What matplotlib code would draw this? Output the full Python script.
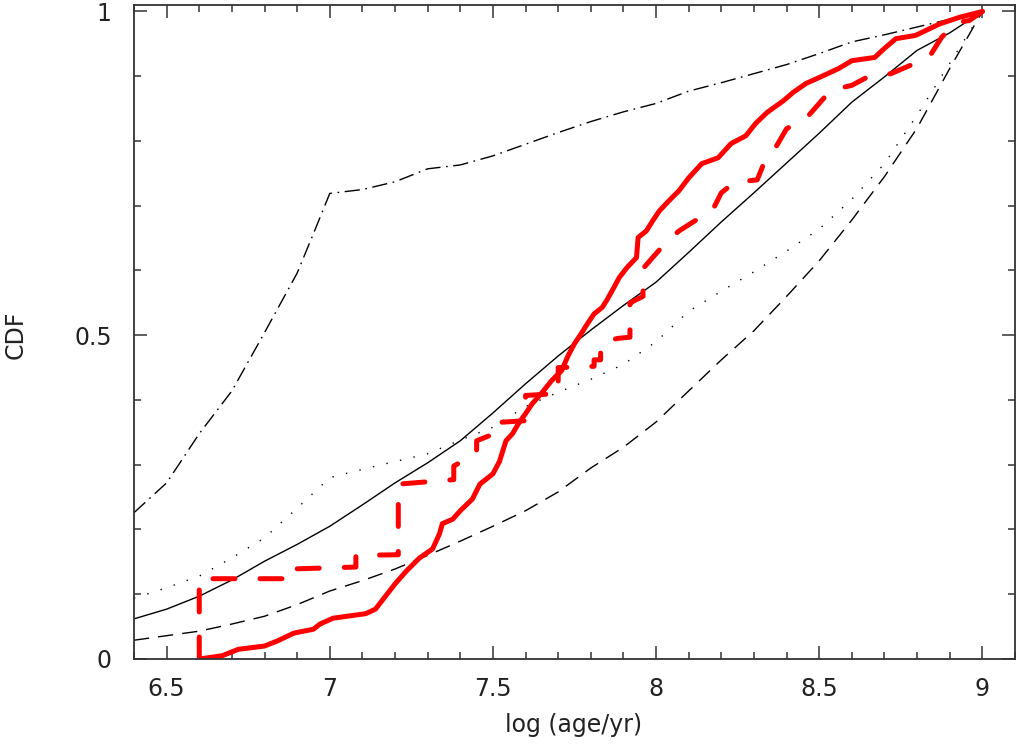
import matplotlib
matplotlib.use("Agg")
import matplotlib.pyplot as plt
from matplotlib.ticker import MultipleLocator

# model CDFs (black curves), sampled by eye
x_grid = [6.4, 6.5, 6.6, 6.7, 6.8, 6.9, 7.0, 7.1, 7.2, 7.3, 7.4, 7.5, 7.6, 7.7,
          7.8, 7.9, 8.0, 8.1, 8.2, 8.3, 8.4, 8.5, 8.6, 8.7, 8.8, 8.9, 9.0]
cdf_solid = [0.062, 0.077, 0.097, 0.122, 0.151, 0.177, 0.205, 0.238, 0.272, 0.303,
             0.337, 0.38, 0.425, 0.468, 0.508, 0.546, 0.582, 0.628, 0.675, 0.72,
             0.766, 0.812, 0.86, 0.899, 0.94, 0.967, 1.0]
cdf_dotted = [0.094, 0.11, 0.128, 0.156, 0.187, 0.233, 0.28, 0.293, 0.305, 0.317,
              0.338, 0.358, 0.39, 0.412, 0.432, 0.455, 0.49, 0.537, 0.568, 0.598,
              0.63, 0.664, 0.71, 0.765, 0.84, 0.92, 1.0]
cdf_dashed = [0.029, 0.036, 0.043, 0.054, 0.066, 0.084, 0.105, 0.121, 0.139, 0.16,
              0.182, 0.205, 0.229, 0.258, 0.295, 0.327, 0.366, 0.414, 0.462, 0.507,
              0.56, 0.615, 0.678, 0.745, 0.82, 0.912, 1.0]

x_dashdot = [6.4, 6.5, 6.6, 6.7, 6.8, 6.9, 6.95, 7.0, 7.1, 7.2, 7.3, 7.4, 7.5, 7.6,
             7.7, 7.8, 7.9, 8.0, 8.1, 8.2, 8.3, 8.4, 8.5, 8.6, 8.7, 8.8, 8.9, 9.0]
cdf_dashdot = [0.226, 0.272, 0.348, 0.414, 0.504, 0.596, 0.657, 0.719, 0.725, 0.737,
               0.757, 0.763, 0.777, 0.795, 0.813, 0.83, 0.845, 0.858, 0.877, 0.89,
               0.904, 0.918, 0.935, 0.953, 0.964, 0.976, 0.988, 1.0]

# observed samples (red curves)
x_obs = [6.6, 6.67, 6.72, 6.8, 6.84, 6.89, 6.95, 6.97, 7.01, 7.11, 7.14, 7.16, 7.2,
         7.235, 7.275, 7.315, 7.336, 7.345, 7.377, 7.4, 7.437, 7.46, 7.5, 7.52, 7.54,
         7.56, 7.58, 7.6, 7.62, 7.65, 7.68, 7.71, 7.73, 7.75, 7.77, 7.79, 7.81, 7.835,
         7.85, 7.87, 7.887, 7.91, 7.94, 7.945, 7.97, 7.99, 8.01, 8.04, 8.07, 8.1, 8.14,
         8.19, 8.23, 8.275, 8.305, 8.34, 8.39, 8.42, 8.46, 8.5, 8.56, 8.6, 8.67, 8.7,
         8.735, 8.795, 8.87, 8.93, 9.0]
cdf_obs = [0.0, 0.005, 0.015, 0.02, 0.028, 0.04, 0.046, 0.054, 0.063, 0.07, 0.077,
           0.09, 0.116, 0.136, 0.156, 0.17, 0.193, 0.209, 0.216, 0.229, 0.247, 0.27,
           0.286, 0.305, 0.337, 0.348, 0.365, 0.379, 0.394, 0.411, 0.43, 0.445, 0.468,
           0.487, 0.502, 0.518, 0.533, 0.543, 0.555, 0.573, 0.589, 0.604, 0.62, 0.651,
           0.661, 0.677, 0.692, 0.708, 0.723, 0.743, 0.765, 0.774, 0.796, 0.808, 0.827,
           0.844, 0.862, 0.875, 0.889, 0.898, 0.912, 0.924, 0.929, 0.943, 0.958, 0.963,
           0.981, 0.991, 1.0]

x_obs2 = [6.6, 6.6, 6.88, 6.88, 7.08, 7.08, 7.21, 7.21, 7.38, 7.38, 7.45, 7.45, 7.505,
          7.505, 7.6, 7.6, 7.7, 7.7, 7.81, 7.81, 7.83, 7.83, 7.88, 7.92, 7.92, 7.96,
          7.96, 8.0, 8.03, 8.07, 8.12, 8.17, 8.2, 8.24, 8.31, 8.33, 8.37, 8.4, 8.46,
          8.5, 8.535, 8.6, 8.645, 8.72, 8.78, 8.84, 8.875, 8.92, 8.96, 9.0]
cdf_obs2 = [0.0, 0.124, 0.124, 0.139, 0.142, 0.16, 0.161, 0.27, 0.277, 0.298, 0.318,
            0.337, 0.348, 0.365, 0.368, 0.407, 0.41, 0.45, 0.452, 0.462, 0.462, 0.487,
            0.495, 0.497, 0.55, 0.56, 0.603, 0.626, 0.643, 0.661, 0.677, 0.69, 0.72,
            0.736, 0.74, 0.765, 0.793, 0.819, 0.835, 0.858, 0.878, 0.886, 0.898, 0.904,
            0.917, 0.932, 0.96, 0.983, 0.986, 1.0]

fig = plt.figure(figsize=(10.17, 7.47), dpi=100)
ax = fig.add_axes([134 / 1017, 88 / 747, 881 / 1017, 654 / 747])

thin = 1.0
ax.plot(x_grid, cdf_solid, color='black', lw=thin)
ax.plot(x_grid, cdf_dotted, color='black', lw=thin, linestyle=(0, (1.0, 9)))
ax.plot(x_grid, cdf_dashed, color='black', lw=thin, linestyle=(0, (11, 6.5)))
ax.plot(x_dashdot, cdf_dashdot, color='black', lw=thin,
        linestyle=(0, (11, 4, 1.2, 4)))

ax.plot(x_obs, cdf_obs, color='red', lw=3.6, solid_capstyle='round',
        solid_joinstyle='round')
ax.plot(x_obs2, cdf_obs2, color='red', lw=3.6, linestyle=(0, (4.4, 5.0)),
        dash_capstyle='round', dash_joinstyle='round')

ax.set_xlim(6.4, 9.1)
ax.set_ylim(0, 1.01)
ax.xaxis.set_minor_locator(MultipleLocator(0.1))
ax.yaxis.set_minor_locator(MultipleLocator(0.1))
ax.set_yticks([0, 0.5, 1])
ax.set_yticklabels(['0', '0.5', '1'])
ax.set_xticks([6.5, 7, 7.5, 8, 8.5, 9])
ax.set_xticklabels(['6.5', '7', '7.5', '8', '8.5', '9'])

ax.tick_params(which='both', direction='in', top=True, right=True,
               color='#333333', width=1.1)
ax.tick_params(which='major', length=9.5)
ax.tick_params(which='minor', length=5)
ax.tick_params(axis='x', which='major', labelsize=17, pad=13, labelcolor='#222222')
ax.tick_params(axis='y', which='major', labelsize=17, pad=16, labelcolor='#222222')
for s in ax.spines.values():
    s.set_color('#333333')
    s.set_linewidth(1.3)

fig.text(574 / 1017, 1 - 725 / 747, 'log (age/yr)', fontsize=17, color='#222222',
         ha='center', va='center')
fig.text(16 / 1017, 1 - 335 / 747, 'CDF', fontsize=17, color='#222222',
         ha='center', va='center', rotation=90)

fig.savefig('out.png', dpi=100)
